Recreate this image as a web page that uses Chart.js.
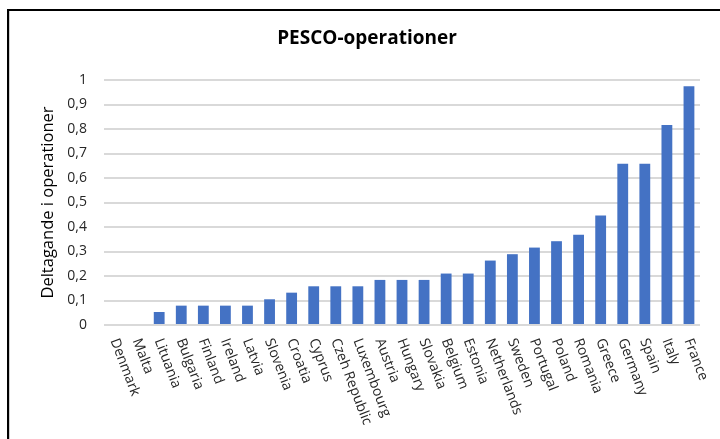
<!DOCTYPE html>
<html lang="sv">
<head>
    <meta charset="UTF-8">
    <title>PESCO-operationer</title>
    <style>
        body {
            margin: 0;
            background-color: #ffffff;
            overflow: hidden;
        }
        .wrap {
            position: relative;
            width: 720px;
            height: 439px;
        }
        canvas {
            position: absolute;
            left: 0;
            top: 0;
        }
        /* svart ram uppe och till vänster */
        .frame {
            position: absolute;
            left: 7px;
            top: 9px;
            width: 800px;
            height: 600px;
            border-left: 2px solid #000;
            border-top: 2px solid #000;
            box-shadow: inset 1px 0 0 #cfcfcf;
            pointer-events: none;
        }
    </style>
    <script src="https://cdn.jsdelivr.net/npm/chart.js"></script>
</head>
<body>
    <div class="wrap">
        <canvas id="pescoChart" width="720" height="439"></canvas>
        <div class="frame"></div>
    </div>

    <script>
        // Länder, sorterade efter andel deltagande
        const countries = [
            'Denmark', 'Malta', 'Lituania', 'Bulgaria', 'Finland', 'Ireland', 'Latvia',
            'Slovenia', 'Croatia', 'Cyprus', 'Czeh Republic', 'Luxembourg', 'Austria',
            'Hungary', 'Slovakia', 'Belgium', 'Estonia', 'Netherlands', 'Sweden',
            'Portugal', 'Poland', 'Romania', 'Greece', 'Germany', 'Spain', 'Italy', 'France'
        ];
        const participation = [
            0, 0, 0.053, 0.079, 0.079, 0.079, 0.079,
            0.105, 0.132, 0.158, 0.158, 0.158, 0.184,
            0.184, 0.184, 0.21, 0.21, 0.263, 0.289,
            0.316, 0.342, 0.368, 0.447, 0.658, 0.658, 0.816, 0.974
        ];
        const yTickLabels = ['0', '0,1', '0,2', '0,3', '0,4', '0,5', '0,6', '0,7', '0,8', '0,9', '1'];
        const chartTitle = 'PESCO-operationer';

        const labelFont = '14px "Open Sans", sans-serif';

        // Rubriken centreras över hela ramen, inte bara över diagramytan
        // Landsnamnen ritas snett nedåt åt höger från varje stapel
        const extraText = {
            id: 'extraText',
            afterDraw(chart) {
                const ctx = chart.ctx;
                const xScale = chart.scales.x;
                ctx.save();
                ctx.font = 'bold 19px "Open Sans", sans-serif';
                ctx.fillStyle = '#000000';
                ctx.textAlign = 'center';
                ctx.textBaseline = 'middle';
                ctx.fillText(chartTitle, 367, 39);

                const y0 = chart.chartArea.bottom + 14;
                ctx.font = labelFont;
                ctx.fillStyle = '#262626';
                ctx.textAlign = 'left';
                countries.forEach((name, i) => {
                    const x = xScale.getPixelForTick(i);
                    ctx.save();
                    ctx.translate(x - 1, y0);
                    ctx.rotate(69 * Math.PI / 180);
                    ctx.fillText(name, 0, 0);
                    ctx.restore();
                });
                ctx.restore();
            }
        };

        const ctx = document.getElementById('pescoChart').getContext('2d');
        new Chart(ctx, {
            type: 'bar',
            data: {
                labels: countries,
                datasets: [{
                    label: 'Deltagande',
                    data: participation,
                    backgroundColor: '#4472C4',
                    categoryPercentage: 1,
                    barPercentage: 0.49
                }]
            },
            options: {
                responsive: false,
                animation: false,
                layout: {
                    padding: { left: 0, right: 20, top: 80, bottom: 114 }
                },
                plugins: {
                    legend: { display: false },
                    tooltip: { enabled: false },
                    title: { display: false }
                },
                scales: {
                    x: {
                        grid: { display: false },
                        border: { display: false },
                        ticks: { display: false },
                        afterFit(scale) { scale.height = 0; }
                    },
                    y: {
                        min: 0,
                        max: 1,
                        afterFit(scale) { scale.width = 104; },
                        ticks: {
                            stepSize: 0.1,
                            padding: 17,
                            color: '#262626',
                            font: { family: '"Open Sans", sans-serif', size: 14 },
                            callback: (v) => yTickLabels[Math.round(v * 10)]
                        },
                        grid: {
                            color: '#d9d9d9',
                            lineWidth: 2,
                            drawTicks: false
                        },
                        border: { display: false },
                        title: {
                            display: true,
                            text: 'Deltagande i operationer',
                            color: '#000000',
                            font: { family: '"Open Sans", sans-serif', size: 16.5 },
                            padding: { top: 38, bottom: 0 }
                        }
                    }
                }
            },
            plugins: [extraText]
        });
    </script>
</body>
</html>
